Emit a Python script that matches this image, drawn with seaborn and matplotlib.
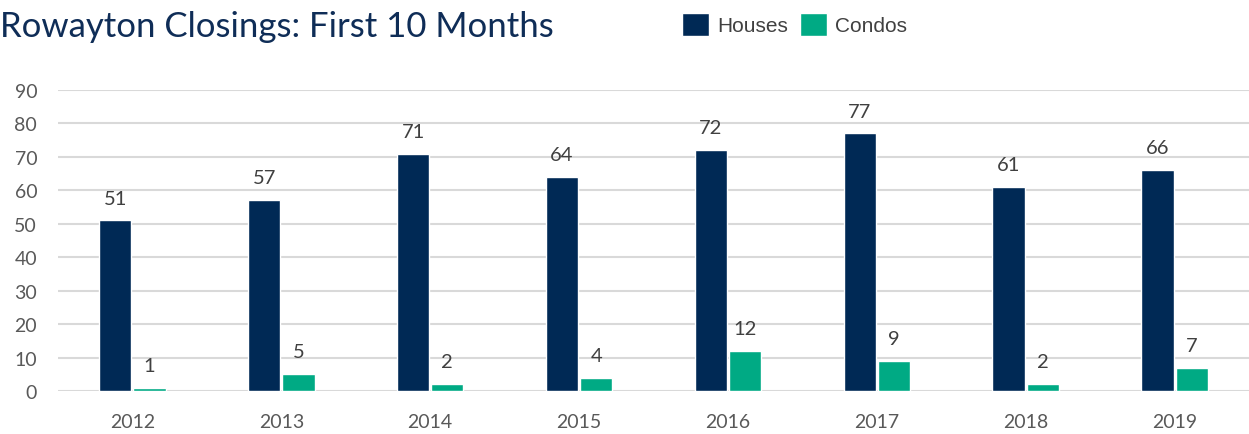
import matplotlib
matplotlib.use("Agg")
import matplotlib.pyplot as plt
import seaborn as sns
import pandas as pd
from matplotlib.patches import Patch

years = ["2012", "2013", "2014", "2015", "2016", "2017", "2018", "2019"]
houses = [51, 57, 71, 64, 72, 77, 61, 66]
condos = [1, 5, 2, 4, 12, 9, 2, 7]
series_names = ["Houses", "Condos"]
title = "Rowayton Closings: First 10 Months"

NAVY = "#002955"
TEAL = "#00AA84"
GRID = "#d9d9d9"
TXT = "#595959"

df = pd.DataFrame({
    "year": years * 2,
    "value": houses + condos,
    "series": [series_names[0]] * len(years) + [series_names[1]] * len(years),
})

sns.set_theme(style="white")
plt.rcParams["font.family"] = ["Lato", "DejaVu Sans"]

fig = plt.figure(figsize=(12.49, 4.35), dpi=100)
ax = fig.add_axes([58 / 1249, 1 - 392 / 435, 1 - 58 / 1249, (392 - 91) / 435])

sns.barplot(data=df, x="year", y="value", hue="series", order=years,
            hue_order=series_names, palette=[NAVY, TEAL], width=0.46,
            gap=0.06, ax=ax, legend=False, saturation=1)

for cont in ax.containers:
    ax.bar_label(cont, labels=[str(int(v)) for v in cont.datavalues],
                 padding=10, fontsize=14.5, color="#404040")

ax.set_ylim(0, 90)
ax.set_yticks(range(0, 91, 10))
ax.set_xlim(-0.5, len(years) - 0.5)
ax.yaxis.grid(True, color=GRID, linewidth=1.5)
ax.set_axisbelow(True)
for s in ax.spines.values():
    s.set_visible(False)
ax.tick_params(axis="y", length=0, pad=15, labelsize=14, labelcolor=TXT)
ax.tick_params(axis="x", length=0, pad=16, labelsize=14, labelcolor=TXT)
ax.set_xlabel("")
ax.set_ylabel("")

fig.text(0.0, 1 - 37 / 435, title, fontsize=25, color="#0f2d57",
         ha="left", va="baseline")

handles = [Patch(facecolor=NAVY), Patch(facecolor=TEAL)]
fig.legend(handles, series_names, loc="upper left",
           bbox_to_anchor=(682 / 1249, 1 - 14 / 435), ncol=2, frameon=False,
           prop={"family": ["Liberation Sans"], "size": 15},
           handlelength=1.3, handleheight=1.3, handletextpad=0.38,
           columnspacing=0.58, borderpad=0, borderaxespad=0, labelcolor="#404040")

fig.savefig("out.png", dpi=100)
